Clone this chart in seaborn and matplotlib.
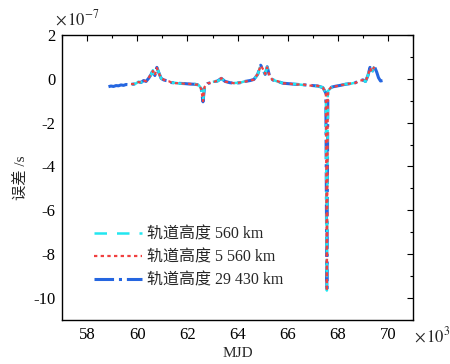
import numpy as np
import pandas as pd
import matplotlib
matplotlib.use('Agg')
import matplotlib.pyplot as plt
from matplotlib.ticker import MultipleLocator
import seaborn as sns

# MJD (x10^3) and clock error (x10^-7 s)
mjd = [58.85, 58.95, 59.05, 59.15, 59.25, 59.35, 59.45, 59.55, 59.65, 59.75,
       59.85, 59.95, 60.05, 60.15, 60.25, 60.35, 60.45, 60.55, 60.62, 60.70,
       60.78, 60.85, 60.95, 61.05, 61.15, 61.25, 61.35, 61.50, 61.70, 61.90,
       62.10, 62.30, 62.45, 62.55, 62.62, 62.68, 62.80, 63.00, 63.20, 63.35,
       63.50, 63.70, 63.90, 64.10, 64.30, 64.50, 64.65, 64.80, 64.92, 65.00,
       65.10, 65.18, 65.28, 65.40, 65.60, 65.80, 66.00, 66.30, 66.60, 66.90,
       67.20, 67.40, 67.52, 67.56, 67.60, 67.75, 67.90, 68.10, 68.30, 68.50,
       68.70, 68.85, 69.00, 69.10, 69.20, 69.28, 69.35, 69.45, 69.55, 69.62,
       69.70, 69.78]

nan = np.nan
err_29430 = [-0.36, -0.33, -0.35, -0.31, -0.32, -0.28, -0.30, -0.26, -0.27, -0.23,
             -0.25, -0.21, -0.14, -0.17, -0.08, -0.12, 0.02, 0.20, 0.38, 0.15,
             0.52, 0.30, 0.02, -0.05, -0.08, -0.10, -0.17, -0.19, -0.21, -0.22,
             -0.24, -0.25, -0.28, -0.45, -1.05, -0.40, -0.22, -0.15, -0.10, 0.02,
             -0.12, -0.18, -0.20, -0.18, -0.12, -0.08, -0.03, 0.20, 0.62, 0.45,
             0.20, 0.55, 0.10, -0.05, -0.12, -0.20, -0.22, -0.25, -0.27, -0.30,
             -0.33, -0.40, -0.65, -9.70, -0.55, -0.38, -0.34, -0.30, -0.25, -0.22,
             -0.18, -0.08, -0.05, -0.12, 0.15, 0.52, 0.30, 0.58, 0.30, 0.05,
             -0.10, -0.08]
err_5560 = [nan, nan, nan, nan, nan, nan, nan, nan, nan, -0.24,
            -0.24, -0.20, -0.15, -0.16, -0.09, -0.11, 0.03, 0.22, 0.36, 0.16,
            0.50, 0.28, 0.03, -0.04, -0.09, -0.11, -0.16, -0.20, -0.20, -0.23,
            -0.23, -0.26, -0.27, -0.47, -1.02, -0.38, -0.21, -0.16, -0.09, 0.03,
            -0.13, -0.17, -0.21, -0.17, -0.13, -0.07, -0.04, 0.22, 0.60, 0.47,
            0.22, 0.52, 0.11, -0.06, -0.11, -0.21, -0.21, -0.26, -0.26, -0.31,
            -0.32, -0.41, -0.63, -9.68, -0.53, -0.37, -0.35, -0.29, -0.26, -0.21,
            -0.19, -0.09, -0.06, -0.11, 0.14, 0.50, 0.32, 0.55, nan, nan,
            nan, nan]
err_560 = [nan, nan, nan, nan, nan, nan, nan, nan, nan, -0.23,
           -0.25, -0.21, -0.13, -0.17, -0.08, -0.12, 0.01, 0.19, 0.39, 0.14,
           0.51, 0.31, 0.01, -0.05, -0.07, -0.10, -0.18, -0.18, -0.22, -0.22,
           -0.24, -0.24, -0.29, -0.44, -1.00, -0.41, -0.23, -0.14, -0.11, 0.01,
           -0.11, -0.19, -0.19, -0.18, -0.11, -0.09, -0.02, 0.19, 0.63, 0.44,
           0.21, 0.54, 0.09, -0.04, -0.13, -0.19, -0.23, -0.24, -0.28, -0.29,
           -0.34, -0.39, -0.66, -9.66, -0.56, -0.39, -0.33, -0.31, -0.24, -0.23,
           -0.17, -0.07, -0.04, -0.13, 0.16, 0.51, 0.29, 0.56, nan, nan,
           nan, nan]

labels = ['轨道高度 560 km', '轨道高度 5 560 km', '轨道高度 29 430 km']

sns.set_theme(style='white')
plt.rcParams['font.family'] = ['Liberation Serif', 'Noto Sans CJK SC']
plt.rcParams['axes.unicode_minus'] = False
plt.rcParams['mathtext.fontset'] = 'stix'

fig = plt.figure(figsize=(4.5, 3.64), dpi=100)
ax = fig.add_axes([0.138, 0.121, 0.780, 0.783])

df = pd.DataFrame({'mjd': mjd, 'a': err_560, 'b': err_5560, 'c': err_29430})

sns.lineplot(data=df, x='mjd', y='a', ax=ax, color='#22e6f0', linestyle=(0, (5, 4)),
             linewidth=1.8, label=labels[0], zorder=2, estimator=None)
sns.lineplot(data=df, x='mjd', y='b', ax=ax, color='#f04040', linestyle=(0, (1.5, 1.5)),
             linewidth=1.6, label=labels[1], zorder=3, estimator=None)
sns.lineplot(data=df, x='mjd', y='c', ax=ax, color='#2566e0', linestyle='-.',
             linewidth=2.2, label=labels[2], zorder=1, estimator=None)

ax.set_xlim(57, 71)
ax.set_ylim(-11, 2)
ax.xaxis.set_major_locator(MultipleLocator(2))
ax.xaxis.set_minor_locator(MultipleLocator(1))
ax.yaxis.set_major_locator(MultipleLocator(2))
ax.yaxis.set_minor_locator(MultipleLocator(1))
ax.tick_params(which='both', direction='in', top=True, right=True, labelsize=12,
               colors='black', pad=5)
ax.tick_params(which='major', length=4, width=0.8)
ax.tick_params(which='minor', length=2.5, width=0.8)
for s in ax.spines.values():
    s.set_color('black')
    s.set_linewidth(1.0)

ax.set_xlabel('MJD', fontsize=11, labelpad=3)
ax.set_ylabel('误差 /s', fontsize=11, labelpad=4)

ax.text(-0.02, 1.02, r'$\times\,10^{-7}$', transform=ax.transAxes, fontsize=12,
        ha='left', va='bottom')
ax.text(1.003, -0.02, r'$\times\,10^{3}$', transform=ax.transAxes, fontsize=12,
        ha='left', va='top')

leg = ax.legend(loc='lower left', bbox_to_anchor=(0.05, 0.06), frameon=False,
                fontsize=11.5, handlelength=3.0, handletextpad=0.3,
                labelspacing=0.45)

fig.savefig('out.png', dpi=100)
